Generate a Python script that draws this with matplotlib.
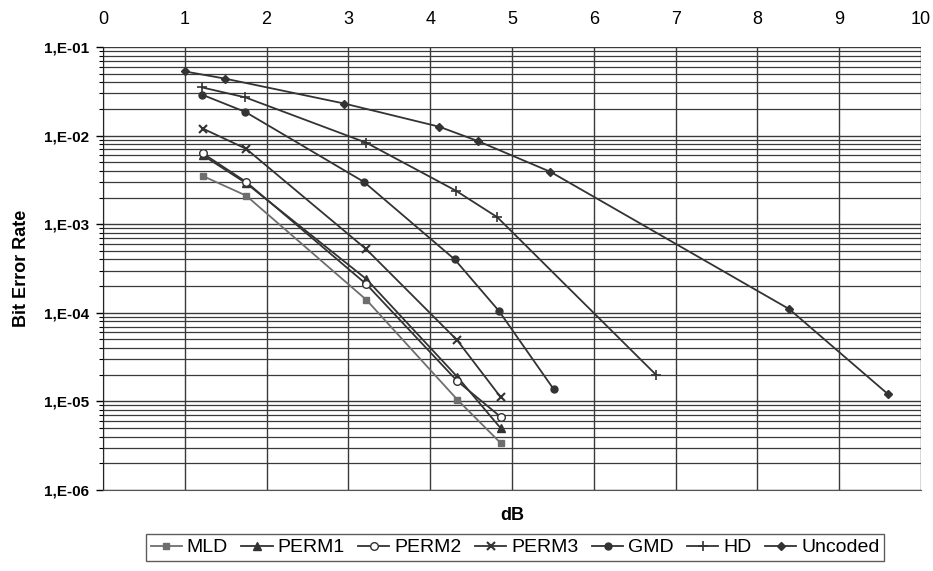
import matplotlib
matplotlib.use("Agg")
import matplotlib.pyplot as plt
from matplotlib.ticker import LogLocator, FixedLocator, FixedFormatter, NullFormatter

plt.rcParams['font.family'] = ['Liberation Sans', 'DejaVu Sans']

# ---- data (dB, BER) ----
mld_x = [1.22, 1.75, 3.22, 4.33, 4.86]
mld_y = [3.5e-3, 2.1e-3, 1.4e-4, 1.05e-5, 3.4e-6]

perm1_x = [1.22, 1.75, 3.22, 4.33, 4.86]
perm1_y = [6.0e-3, 2.9e-3, 2.4e-4, 1.9e-5, 5.0e-6]

perm2_x = [1.22, 1.75, 3.22, 4.33, 4.86]
perm2_y = [6.3e-3, 3.0e-3, 2.1e-4, 1.7e-5, 6.7e-6]

perm3_x = [1.22, 1.75, 3.22, 4.33, 4.86]
perm3_y = [1.2e-2, 7.1e-3, 5.2e-4, 4.9e-5, 1.12e-5]

gmd_x = [1.21, 1.74, 3.19, 4.30, 4.84, 5.51]
gmd_y = [2.9e-2, 1.85e-2, 3.0e-3, 4.0e-4, 1.05e-4, 1.37e-5]

hd_x = [1.21, 1.74, 3.22, 4.31, 4.82, 6.76]
hd_y = [3.5e-2, 2.7e-2, 8.3e-3, 2.4e-3, 1.2e-3, 2.0e-5]

unc_x = [1.0, 1.49, 2.95, 4.11, 4.58, 5.47, 8.39, 9.6]
unc_y = [5.3e-2, 4.4e-2, 2.3e-2, 1.26e-2, 8.7e-3, 3.9e-3, 1.1e-4, 1.2e-5]

series = [
    ("MLD", mld_x, mld_y, dict(marker='s', color='#6e6e6e', mfc='#6e6e6e', ms=5)),
    ("PERM1", perm1_x, perm1_y, dict(marker='^', color='#333333', mfc='#333333', ms=5.5)),
    ("PERM2", perm2_x, perm2_y, dict(marker='o', color='#333333', mfc='white', ms=5.5)),
    ("PERM3", perm3_x, perm3_y, dict(marker='x', color='#333333', mfc='#333333', ms=5.5, mew=1.5)),
    ("GMD", gmd_x, gmd_y, dict(marker='o', color='#333333', mfc='#333333', ms=5)),
    ("HD", hd_x, hd_y, dict(marker='+', color='#333333', mfc='#333333', ms=6.5, mew=1.2)),
    ("Uncoded", unc_x, unc_y, dict(marker='D', color='#333333', mfc='#333333', ms=4)),
]

x_ticks = list(range(0, 11))
y_ticks = [1e-1, 1e-2, 1e-3, 1e-4, 1e-5, 1e-6]
y_tick_labels = ["1,E-01", "1,E-02", "1,E-03", "1,E-04", "1,E-05", "1,E-06"]

fig = plt.figure(figsize=(9.33, 5.71), dpi=100)
# x=0 at ~103px, x=10 at ~921px; y 1e-1 at ~47px, 1e-6 at ~490px
ax = fig.add_axes([103/933, 1 - 490/571, (921-103)/933, (490-47)/571])

for name, xs, ys, st in series:
    ax.plot(xs, ys, label=name, lw=1.3, mec=st['color'], **st)

ax.set_yscale('log')
ax.set_xlim(0, 10)
ax.set_ylim(1e-6, 1e-1)

ax.xaxis.set_major_locator(FixedLocator(x_ticks))
ax.xaxis.tick_top()
ax.tick_params(axis='x', which='both', length=0, labelsize=13, pad=14)

ax.yaxis.set_major_locator(FixedLocator(y_ticks))
ax.yaxis.set_major_formatter(FixedFormatter(y_tick_labels))
ax.yaxis.set_minor_locator(LogLocator(base=10, subs=range(2, 10), numticks=20))
ax.yaxis.set_minor_formatter(NullFormatter())
ax.tick_params(axis='y', which='major', length=5, labelsize=11, width=1, pad=5)
ax.tick_params(axis='y', which='minor', length=3, width=0.8)
for lab in ax.get_yticklabels():
    lab.set_fontweight('bold')

ax.grid(True, which='major', axis='both', color='#3a3a3a', lw=1.0)
ax.grid(True, which='minor', axis='y', color='#3a3a3a', lw=0.9)
ax.set_axisbelow(True)

for s in ['top', 'right']:
    ax.spines[s].set_visible(False)
ax.spines['left'].set_color('#222222')
ax.spines['bottom'].set_color('#555555')

ax.set_ylabel("Bit Error Rate", fontsize=13, fontweight='bold', labelpad=10)
ax.set_xlabel("dB", fontsize=13, fontweight='bold', labelpad=12)

leg = fig.legend(loc='lower center', bbox_to_anchor=(0.552, 0.0), ncol=7,
                 frameon=True, fancybox=False, edgecolor='#333333',
                 fontsize=14, handlelength=1.6, handletextpad=0.25,
                 columnspacing=0.7, borderpad=0.25)
leg.get_frame().set_linewidth(1.0)

fig.savefig("out.png", dpi=100, facecolor='white')
